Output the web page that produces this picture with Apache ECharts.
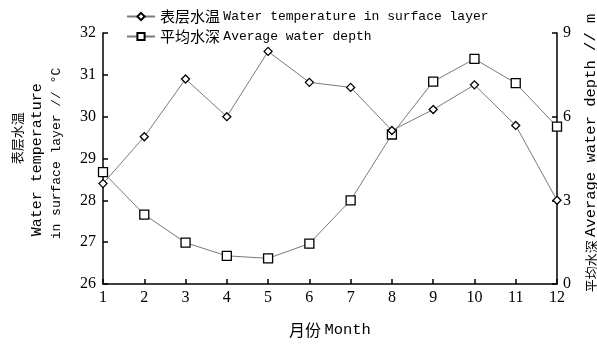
<!DOCTYPE html>
<html>
<head>
<meta charset="utf-8">
<script src="https://cdn.jsdelivr.net/npm/echarts@6/dist/echarts.min.js"></script>
<style>
html,body{margin:0;padding:0;background:#fff;}
#chart{width:597px;height:345px;}
</style>
</head>
<body>
<div id="chart"></div>
<script>
var months = ['1','2','3','4','5','6','7','8','9','10','11','12'];
var tempName = '表层水温 Water temperature in surface layer';
var depthName = '平均水深 Average water depth';
var waterTemp = [28.4, 29.52, 30.9, 30.0, 31.56, 30.82, 30.7, 29.67, 30.17, 30.76, 29.79, 28.0];
var waterDepth = [4.01, 2.49, 1.48, 1.01, 0.92, 1.45, 3.0, 5.36, 7.26, 8.07, 7.2, 5.64];
var leftTicks = {min: 26, max: 32, interval: 1};
var rightTicks = {min: 0, max: 9, interval: 3};

var serif = '"Liberation Serif","Times New Roman","Noto Sans CJK SC",serif';
var mono = '"Liberation Mono","Noto Sans CJK SC",monospace';
var cjk = '"Noto Sans CJK SC",sans-serif';

var chart = echarts.init(document.getElementById('chart'));
var axisLine = {show: true, lineStyle: {color: '#000', width: 1.5}};
var axisTick = {show: true, inside: true, length: 5, lineStyle: {color: '#000', width: 1.5}};

function seriesStyle(symbol, size) {
  return {
    type: 'line',
    symbol: symbol,
    symbolSize: size,
    showSymbol: true,
    lineStyle: {color: '#7a7a7a', width: 1},
    itemStyle: {color: '#fff', borderColor: '#000', borderWidth: 1.3},
    emphasis: {disabled: true},
    animation: false
  };
}

var s1 = seriesStyle('diamond', 8);
s1.name = tempName; s1.data = waterTemp; s1.yAxisIndex = 0; s1.z = 3;
var s2 = seriesStyle('rect', 9);
s2.name = depthName; s2.data = waterDepth; s2.yAxisIndex = 1; s2.z = 2;

chart.setOption({
  backgroundColor: '#fff',
  animation: false,
  grid: {left: 103, right: 40, top: 33, bottom: 61, containLabel: false, outerBoundsMode: 'none'},
  legend: {
    orient: 'vertical',
    left: 121,
    top: 4,
    itemWidth: 28,
    itemHeight: 9,
    itemGap: 5,
    data: [tempName, depthName],
    formatter: function (name) {
      var i = name.indexOf(' ');
      return '{c|' + name.slice(0, i) + '} {e|' + name.slice(i + 1) + '}';
    },
    textStyle: {
      color: '#000',
      rich: {
        c: {fontFamily: cjk, fontSize: 15, color: '#000'},
        e: {fontFamily: mono, fontSize: 13, color: '#000'}
      }
    }
  },
  xAxis: {
    type: 'category',
    data: months,
    boundaryGap: false,
    axisLine: axisLine,
    axisTick: {show: true, inside: true, length: 5, alignWithLabel: true, lineStyle: {color: '#000', width: 1.5}},
    axisLabel: {color: '#000', fontFamily: serif, fontSize: 16, margin: 6},
    splitLine: {show: false},
    name: '{c|月份} {e|Month}',
    nameLocation: 'middle',
    nameGap: 38,
    nameTextStyle: {color: '#000', rich: {
      c: {fontFamily: cjk, fontSize: 16, color: '#000'},
      e: {fontFamily: mono, fontSize: 15.5, color: '#000'}
    }}
  },
  yAxis: [
    {
      type: 'value',
      min: leftTicks.min, max: leftTicks.max, interval: leftTicks.interval,
      position: 'left',
      axisLine: axisLine,
      axisTick: axisTick,
      axisLabel: {color: '#000', fontFamily: serif, fontSize: 16, margin: 7},
      splitLine: {show: false},
      name: '{c|表层水温}\n{e|Water temperature}\n{f|in surface layer // °C}',
      nameLocation: 'middle',
      nameRotate: 90,
      nameGap: 37,
      nameTextStyle: {color: '#000', align: 'center', padding: [0, 0, 0, 10], rich: {
        c: {fontFamily: cjk, fontSize: 13, color: '#000', lineHeight: 22, align: 'left', padding: [0, 0, 0, 75]},
        e: {fontFamily: mono, fontSize: 15, color: '#000', lineHeight: 19, align: 'left', padding: [0, 0, 0, 3]},
        f: {fontFamily: mono, fontSize: 13, color: '#000', lineHeight: 19, align: 'left'}
      }}
    },
    {
      type: 'value',
      min: rightTicks.min, max: rightTicks.max, interval: rightTicks.interval,
      position: 'right',
      axisLine: axisLine,
      axisTick: axisTick,
      axisLabel: {color: '#000', fontFamily: serif, fontSize: 16, margin: 6},
      splitLine: {show: false},
      name: '{c|平均水深} {e|Average water depth // m}',
      nameLocation: 'middle',
      nameRotate: 90,
      nameGap: 26,
      nameTextStyle: {color: '#000', padding: [0, 0, 0, 11], rich: {
        c: {fontFamily: cjk, fontSize: 13, color: '#000'},
        e: {fontFamily: mono, fontSize: 15.5, color: '#000'}
      }}
    }
  ],
  series: [s1, s2]
});
</script>
</body>
</html>
